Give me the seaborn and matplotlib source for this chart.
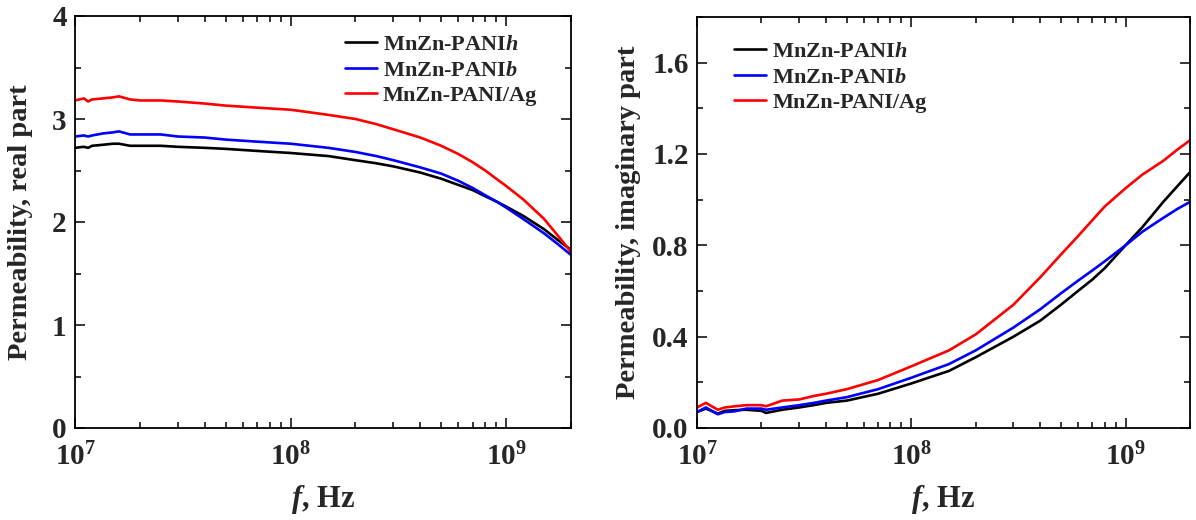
import numpy as np
import pandas as pd
import matplotlib
matplotlib.use("Agg")
import matplotlib.pyplot as plt
import seaborn as sns
from matplotlib.ticker import MultipleLocator, LogLocator, NullFormatter, FormatStrFormatter

# ---- data ----
freq_re = [1e7, 1.1e7, 1.15e7, 1.2e7, 1.35e7, 1.5e7, 1.6e7, 1.8e7, 2e7, 2.5e7, 3e7, 4e7, 5e7, 7e7,
           1e8, 1.5e8, 2e8, 2.5e8, 3e8, 4e8, 5e8, 6e8, 7e8, 8e8, 9e8, 1e9, 1.2e9, 1.5e9, 1.75e9, 2e9]
real_h = [2.72, 2.73, 2.72, 2.74, 2.75, 2.76, 2.76, 2.74, 2.74, 2.74, 2.73, 2.72, 2.71, 2.69,
          2.67, 2.64, 2.60, 2.57, 2.54, 2.48, 2.42, 2.36, 2.31, 2.25, 2.20, 2.15, 2.06, 1.93, 1.82, 1.73]
real_b = [2.83, 2.84, 2.83, 2.84, 2.86, 2.87, 2.88, 2.85, 2.85, 2.85, 2.83, 2.82, 2.80, 2.78,
          2.76, 2.72, 2.68, 2.64, 2.60, 2.53, 2.47, 2.40, 2.33, 2.26, 2.20, 2.14, 2.03, 1.89, 1.78, 1.68]
real_ag = [3.18, 3.20, 3.17, 3.19, 3.20, 3.21, 3.22, 3.19, 3.18, 3.18, 3.17, 3.15, 3.13, 3.11,
           3.09, 3.04, 3.00, 2.95, 2.90, 2.82, 2.74, 2.66, 2.58, 2.50, 2.42, 2.35, 2.22, 2.03, 1.86, 1.71]

freq_im = [1e7, 1.1e7, 1.25e7, 1.35e7, 1.5e7, 1.7e7, 2e7, 2.1e7, 2.5e7, 3e7, 3.5e7, 4e7, 5e7, 7e7,
           1e8, 1.5e8, 2e8, 3e8, 4e8, 5e8, 6e8, 7e8, 8e8, 1e9, 1.2e9, 1.5e9, 1.75e9, 2e9]
imag_h = [0.07, 0.085, 0.063, 0.075, 0.078, 0.08, 0.075, 0.066, 0.08, 0.09, 0.10, 0.11, 0.12, 0.15,
          0.195, 0.25, 0.31, 0.40, 0.47, 0.54, 0.60, 0.65, 0.70, 0.80, 0.88, 0.99, 1.06, 1.12]
imag_b = [0.07, 0.09, 0.06, 0.07, 0.073, 0.085, 0.085, 0.08, 0.09, 0.10, 0.11, 0.12, 0.135, 0.17,
          0.22, 0.28, 0.34, 0.44, 0.52, 0.59, 0.645, 0.69, 0.73, 0.80, 0.86, 0.92, 0.96, 0.99]
imag_ag = [0.09, 0.11, 0.08, 0.09, 0.095, 0.10, 0.10, 0.095, 0.12, 0.125, 0.14, 0.15, 0.17, 0.21,
           0.27, 0.34, 0.41, 0.54, 0.66, 0.76, 0.84, 0.91, 0.97, 1.05, 1.11, 1.17, 1.22, 1.26]

labels = ["MnZn-PANI$\\mathit{h}$", "MnZn-PANI$\\mathit{b}$", "MnZn-PANI/Ag"]
colors = ["#000000", "#0000ff", "#ff0000"]

def long_df(freq, series):
    rows = []
    for lab, vals in zip(labels, series):
        for f, v in zip(freq, vals):
            rows.append({"f": f, "v": v, "sample": lab})
    return pd.DataFrame(rows)

df_re = long_df(freq_re, [real_h, real_b, real_ag])
df_im = long_df(freq_im, [imag_h, imag_b, imag_ag])

sns.set_style("ticks")
plt.rcParams.update({
    "font.family": ["Liberation Serif", "DejaVu Serif"],
    "font.weight": "bold",
    "mathtext.fontset": "custom",
    "mathtext.rm": "Liberation Serif:bold",
    "mathtext.bf": "Liberation Serif:bold",
    "mathtext.it": "Liberation Serif:italic:bold",
    "axes.linewidth": 1.3,
    "axes.edgecolor": "black",
})

fig = plt.figure(figsize=(11.96, 5.2), dpi=100)
ax1 = fig.add_axes([75/1196, 92/520, 496/1196, 412/520])
ax2 = fig.add_axes([697/1196, 92/520, 493/1196, 411/520])

palette = dict(zip(labels, colors))
sns.lineplot(data=df_re, x="f", y="v", hue="sample", palette=palette, ax=ax1, lw=1.9, sort=True)
sns.lineplot(data=df_im, x="f", y="v", hue="sample", palette=palette, ax=ax2, lw=1.9, sort=True)

for ax in (ax1, ax2):
    ax.set_xscale("log")
    ax.set_xlim(1e7, 2e9)
    ax.xaxis.set_major_locator(LogLocator(base=10, numticks=10))
    ax.xaxis.set_minor_locator(LogLocator(base=10, subs=np.arange(2, 10), numticks=20))
    ax.xaxis.set_minor_formatter(NullFormatter())
    ax.tick_params(which="both", direction="in", top=True, right=True, labelsize=21, width=1.3)
    ax.tick_params(which="major", length=7)
    ax.tick_params(which="minor", length=4)
    ax.tick_params(axis="x", pad=11)
    ax.tick_params(axis="y", pad=6)
    ax.set_xlabel("$\\mathit{f}$, Hz", fontsize=22, fontweight="bold", labelpad=8)

leg_kw = dict(frameon=False, prop={"weight": "bold", "size": 16}, handlelength=1.45,
              handletextpad=0.27, labelspacing=0.22, borderpad=0, borderaxespad=0,
              loc="upper left")

ax1.set_ylim(0, 4)
ax1.yaxis.set_major_locator(MultipleLocator(1))
ax1.yaxis.set_minor_locator(MultipleLocator(0.5))
ax1.set_ylabel("Permeability, real part", fontsize=20.5, fontweight="bold", labelpad=14)
ax1.legend(bbox_to_anchor=(0.544, 0.955), **leg_kw)

ax2.set_ylim(0, 1.8)
ax2.yaxis.set_major_locator(MultipleLocator(0.4))
ax2.yaxis.set_minor_locator(MultipleLocator(0.2))
ax2.yaxis.set_major_formatter(FormatStrFormatter("%.1f"))
ax2.set_ylabel("Permeability, imaginary part", fontsize=20.5, fontweight="bold", labelpad=8)
ax2.legend(bbox_to_anchor=(0.075, 0.94), **leg_kw)

for ax in (ax1, ax2):
    for t in ax.get_yticklabels() + ax.get_xticklabels():
        t.set_fontweight("bold")

fig.savefig("out.png", dpi=100)
